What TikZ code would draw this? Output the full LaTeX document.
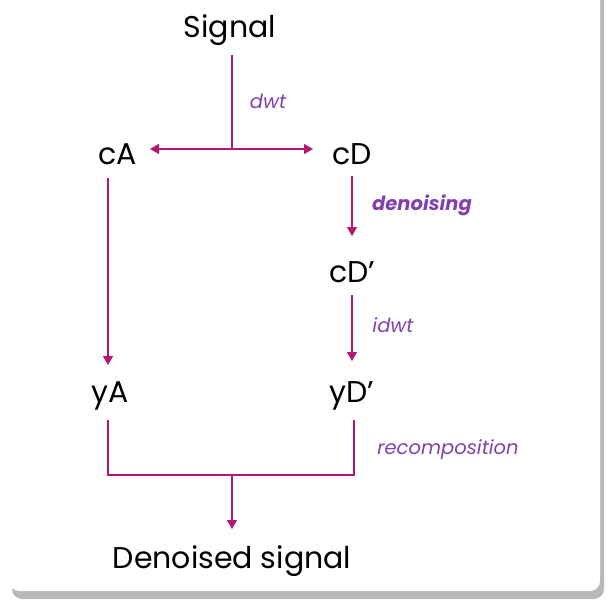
\documentclass[tikz,border=0pt]{standalone}
\usepackage{fontspec}
\setmainfont{Poppins}
\usetikzlibrary{shadows,arrows.meta}
\definecolor{arr}{HTML}{B5156E}
\definecolor{lab}{HTML}{8341AE}
\begin{document}
\begin{tikzpicture}[x=1pt,y=-1pt,
  nd/.style={font=\fontsize{30}{34}\selectfont, text=black, inner sep=0pt},
  lb/.style={font=\fontsize{19.5}{22}\selectfont\itshape, text=lab, inner sep=0pt},
  ln/.style={draw=arr, line width=1.3pt},
  ar/.style={ln, -{Triangle[length=9pt,width=10pt]}}]
\useasboundingbox (0,0) rectangle (610,610);
\fill[gray!70, rounded corners=10pt, opacity=0.8] (12,-12) rectangle (604,599);
\fill[white, rounded corners=10pt] (9,-12) rectangle (600,591);
\node[nd] (sig) at (230,30) {Signal};
\node[nd] (cA) at (118,154) {cA};
\node[nd] (cD) at (352,154) {cD};
\node[nd] (cDp) at (352,272) {cD’};
\node[nd] (yA) at (110,396) {yA};
\node[nd] (yDp) at (352,396) {yD’};
\node[nd] (den) at (232,561) {Denoised signal};
\coordinate (b) at (232,149);
\coordinate (j) at (232,475);
\draw[ln] (232,55) -- (b);
\draw[ar] (b) -- (150,149);
\draw[ar] (b) -- (313,149);
\node[lb] (ldwt) at (268,101) {dwt};
\draw[ar] (352,176) -- (352,236);
\node[lb, font=\fontsize{19.5}{22}\selectfont\bfseries\itshape] (lden) at (422,205) {denoising};
\draw[ar] (352,295) -- (352,361);
\node[lb] (lidwt) at (393,325) {idwt};
\draw[ar] (108,178) -- (108,365);
\draw[ln] (108,420) |- (j) -| (354,420);
\draw[ar] (j) -- (232,529);
\node[lb] (lrec) at (448,450) {recomposition};
\end{tikzpicture}
\end{document}
